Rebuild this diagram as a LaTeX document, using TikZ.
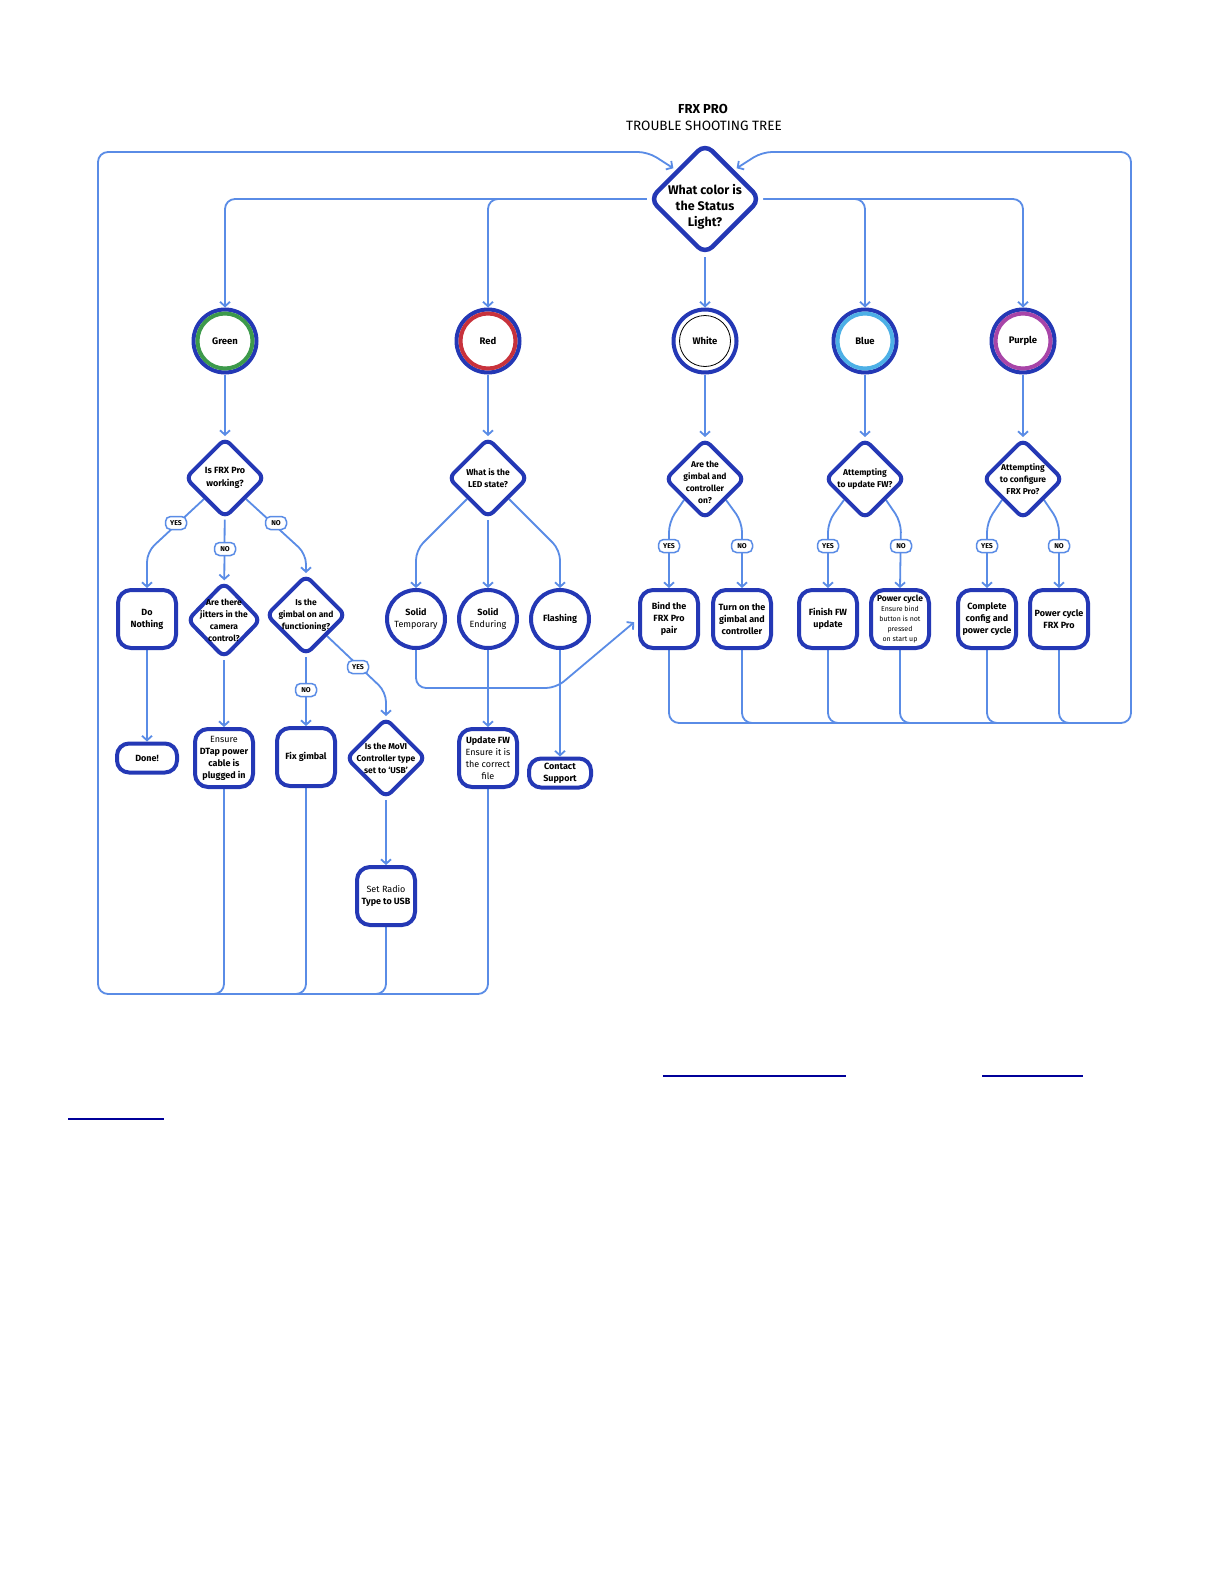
\documentclass[tikz,border=0pt]{standalone}
\usepackage{fontspec}
\setmainfont{Fira Sans}
\usetikzlibrary{arrows.meta,shapes.geometric}
\definecolor{nodeblue}{HTML}{2438B5}
\definecolor{lineblue}{HTML}{5A8CE6}
\definecolor{ringgreen}{HTML}{3D9A4B}
\definecolor{ringred}{HTML}{C8323C}
\definecolor{ringblue}{HTML}{4DB0E6}
\definecolor{ringpurple}{HTML}{A845A8}
\definecolor{ulblue}{HTML}{000099}
\newcommand\myfs[2]{\fontsize{#1}{#2}\selectfont}
\pgfdeclarelayer{back}
\pgfdeclarelayer{bg}
\pgfsetlayers{back,bg,main}
\begin{document}
\begin{tikzpicture}[x=1pt,y=-1pt,
  conn/.style={draw=lineblue, line width=1.8pt, rounded corners=10pt},
  arr/.style={conn, -{Straight Barb[length=4.5pt,width=10pt]}},
  box/.style={draw=nodeblue, line width=4pt, rounded corners=13pt, fill=white,
    minimum width=58pt, minimum height=58pt, inner sep=0pt, align=center,
    font=\myfs{9}{12}\bfseries},
  smallbox/.style={box, minimum width=60pt, minimum height=29pt, rounded corners=12pt},
  dia/.style={diamond, aspect=1, draw=nodeblue, line width=4pt, rounded corners=7pt,
    fill=white, minimum width=80pt, minimum height=80pt, inner sep=0pt},
  dtext/.style={align=center, inner sep=0pt, font=\myfs{8.5}{12}\bfseries},
  circ/.style={circle, draw=nodeblue, line width=4pt, fill=white, minimum size=63pt,
    inner sep=0pt, font=\myfs{9.5}{11}\bfseries, align=center},
  circs/.style={circ, minimum size=58pt, font=\myfs{9}{12}\bfseries},
  pill/.style={draw=lineblue, line width=1.5pt, rounded corners=5pt, fill=white,
    inner xsep=2.5pt, inner ysep=1.5pt, minimum height=13pt, minimum width=21pt,
    font=\myfs{7}{8}\bfseries},
  ttl/.style={font=\myfs{13.5}{15}, inner sep=0pt}
]
\begin{pgfonlayer}{back}
\path[use as bounding box, fill=white] (0,0) rectangle (1224,1584);
\end{pgfonlayer}

% title
\node[ttl, font=\myfs{13}{15}\bfseries] (t1) at (703,109) {FRX PRO};
\node[ttl] (t2) at (704,126) {TROUBLE SHOOTING TREE};

% main question
\node[dia, minimum width=112pt, minimum height=112pt, line width=4.5pt, rounded corners=10pt,
  label={[dtext, yshift=-8pt, font=\myfs{12.5}{16}\bfseries]center:{What color is\\the Status\\Light?}}] (m) at (705,199) {};

% colour circles
\node[circ] (cG) at (225,341) {Green};
\node[circ] (cR) at (488,341) {Red};
\node[circ] (cW) at (705,341) {White};
\node[circ] (cB) at (865,341) {Blue};
\node[circ] (cP) at (1023,341) {Purple};
\draw[ringgreen, line width=4pt] (cG.center) circle (27.5);
\draw[ringred, line width=4pt] (cR.center) circle (27.5);
\draw[black, line width=0.8pt] (cW.center) circle (25.5);
\draw[ringblue, line width=4pt] (cB.center) circle (27.5);
\draw[ringpurple, line width=4pt] (cP.center) circle (27.5);

% level 2 questions
\node[dia, label={[dtext, font=\myfs{9}{12.5}\bfseries]center:{Is FRX Pro\\working?}}] (q1) at (225,478) {};
\node[dia, label={[dtext]center:{What is the\\LED state?}}] (led) at (488,478) {};
\node[dia, label={[dtext, yshift=-3pt]center:{Are the\\gimbal and\\controller\\on?}}] (gq) at (705,479) {};
\node[dia, label={[dtext]center:{Attempting\\to update FW?}}] (fq) at (865,479) {};
\node[dia, label={[dtext]center:{Attempting\\to configure\\FRX Pro?}}] (cq) at (1023,479) {};

% left subtree
\node[box] (dn) at (147,619) {Do\\Nothing};
\node[dia, minimum width=74pt, minimum height=76pt, label={[dtext]center:{Are there\\jitters in the\\camera\\control?}}] (jit) at (224,620) {};
\node[dia, label={[dtext]center:{Is the\\gimbal on and\\functioning?}}] (gon) at (306,615) {};
\node[smallbox] (done) at (147,758) {Done!};
\node[box] (dtap) at (224,758) {\mdseries Ensure\\DTap power\\cable is\\plugged in};
\node[box] (fix) at (306,757) {Fix gimbal};
\node[dia, label={[dtext]center:{Is the MoVI\\Controller type\\set to `USB'}}] (movi) at (386,758) {};
\node[box] (srt) at (386,896) {\mdseries Set Radio\\Type to USB};

% red subtree
\node[circs] (st) at (416,619) {Solid\\\mdseries Temporary};
\node[circs] (se) at (488,619) {Solid\\\mdseries Enduring};
\node[circs] (fl) at (560,619) {Flashing};
\node[box] (upd) at (488,758) {Update FW\\\mdseries Ensure it is\\\mdseries the correct\\\mdseries file};
\node[smallbox, minimum width=62pt] (cs) at (560,773) {Contact\\Support};

% right subtrees
\node[box] (bind) at (669,619) {Bind the\\FRX Pro\\pair};
\node[box] (turn) at (742,619) {Turn on the\\gimbal and\\controller};
\node[box] (fin) at (828,619) {Finish FW\\update};
\node[box, font=\myfs{7}{10}\mdseries] (pc) at (900,619) {{\myfs{8.5}{10}\bfseries Power cycle}\\Ensure bind\\button is not\\pressed\\on start up};
\node[box] (comp) at (987,619) {Complete\\config and\\power cycle};
\node[box] (pcf) at (1059,619) {Power cycle\\FRX Pro};

% yes/no pills
\node[pill] (p1) at (176,523) {YES};
\node[pill] (p2) at (225,549) {NO};
\node[pill] (p3) at (276,523) {NO};
\node[pill] (p4) at (306,690) {NO};
\node[pill] (p5) at (358,667) {YES};
\node[pill] (p6) at (669,546) {YES};
\node[pill] (p7) at (742,546) {NO};
\node[pill] (p8) at (828,546) {YES};
\node[pill] (p9) at (901,546) {NO};
\node[pill] (p10) at (987,546) {YES};
\node[pill] (p11) at (1059,546) {NO};

\begin{pgfonlayer}{bg}
% from main question
\draw[arr] (m.west) -| (cG.north);
\draw[arr] (m.west) -| (cR.north);
\draw[arr] (m.east) -| (cB.north);
\draw[arr] (m.east) -| (cP.north);
\draw[arr] (m) -- (cW);
% circles to questions
\draw[arr] (cG) -- (q1);
\draw[arr] (cR) -- (led);
\draw[arr] (cW) -- (gq);
\draw[arr] (cB) -- (fq);
\draw[arr] (cP) -- (cq);
% left subtree
\draw[arr] (q1.south west) -- (147,552) -- (dn.north);
\draw[arr] (q1) -- (jit);
\draw[arr] (q1.south east) -- (306,554) -- (gon.north);
\draw[arr] (dn) -- (done);
\draw[arr] (jit) -- (dtap);
\draw[arr] (gon) -- (fix);
\draw[arr] (gon.south east) -- (386,692) -- (movi.north);
\draw[arr] (movi) -- (srt);
% red subtree
\draw[arr] (led.south west) -- (416,550) -- (st.north);
\draw[arr] (led) -- (se);
\draw[arr] (led.south east) -- (560,550) -- (fl.north);
\draw[arr] (se) -- (upd);
\draw[arr] (fl) -- (cs);
\draw[arr, shorten >=5pt] (st.south) -- (416,688) -- (556,688) -- (bind.west);
% right subtrees
\draw[arr] (gq.south west) -- (669,522) -- (bind.north);
\draw[arr] (gq.south east) -- (742,522) -- (turn.north);
\draw[arr] (fq.south west) -- (828,522) -- (fin.north);
\draw[arr] (fq.south east) -- (901,522) -- (pc.north);
\draw[arr] (cq.south west) -- (987,522) -- (comp.north);
\draw[arr] (cq.south east) -- (1059,522) -- (pcf.north);
% left return loop
\draw[arr, shorten >=3pt] (upd.south) -- (488,994) -- (98,994) -- (98,152) -- (648,152) -- (m.north west);
\draw[conn] (dtap.south) -- (224,994) -- (190,994);
\draw[conn] (fix.south) -- (306,994) -- (280,994);
\draw[conn] (srt.south) -- (386,994) -- (360,994);
% right return loop
\draw[arr, shorten >=3pt] (bind.south) -- (669,723) -- (1131,723) -- (1131,152) -- (762,152) -- (m.north east);
\draw[conn] (turn.south) -- (742,723) -- (770,723);
\draw[conn] (fin.south) -- (828,723) -- (856,723);
\draw[conn] (pc.south) -- (900,723) -- (928,723);
\draw[conn] (comp.south) -- (987,723) -- (1015,723);
\draw[conn] (pcf.south) -- (1059,723) -- (1087,723);
\end{pgfonlayer}

% empty link underlines
\draw[ulblue, line width=1.2pt] (663,1076) -- (846,1076);
\draw[ulblue, line width=1.2pt] (982,1076) -- (1083,1076);
\draw[ulblue, line width=1.6pt] (68,1119) -- (164,1119);
\end{tikzpicture}
\end{document}
